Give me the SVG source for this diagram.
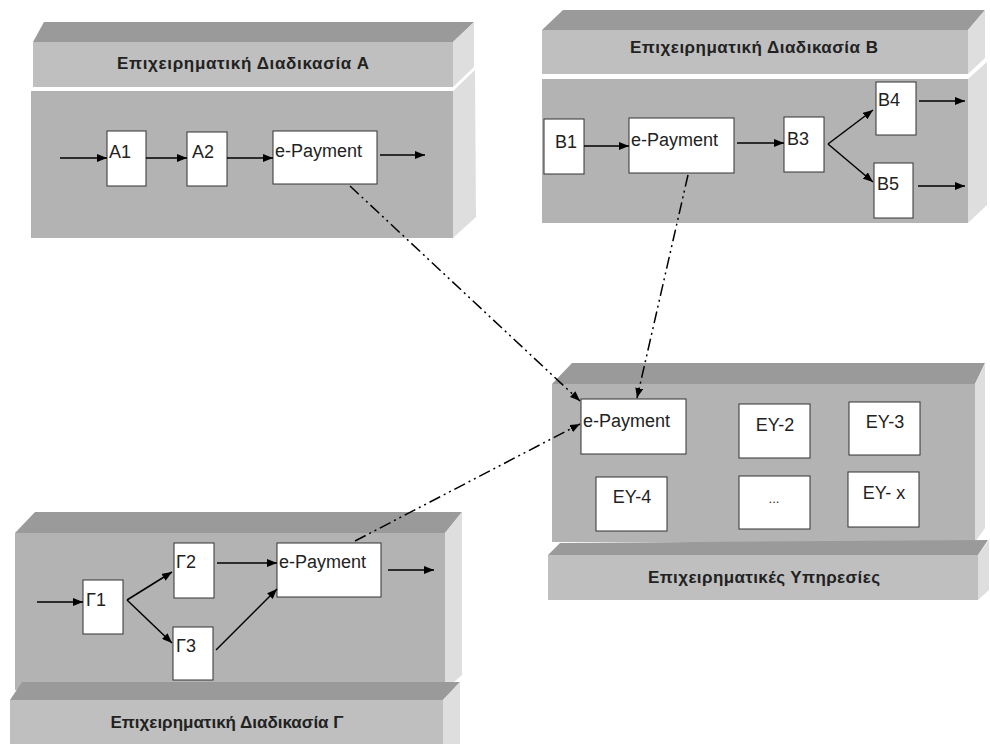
<svg xmlns="http://www.w3.org/2000/svg" width="990" height="744" viewBox="0 0 990 744">
<defs>
<marker id="ah" markerWidth="10" markerHeight="8" refX="10" refY="4" orient="auto" markerUnits="userSpaceOnUse">
<path d="M0,0 L10,4 L0,8 z" fill="#000"/>
</marker>
</defs>
<style>
.top{fill:#9a9a9a}
.side{fill:#dedede}
.hdr{fill:#bfbfbf}
.body{fill:#b3b3b3}
.box{fill:#fff;stroke:#333;stroke-width:1}
.lbl{font-family:"Liberation Sans",Arial,sans-serif;font-size:18px;fill:#222}
.ttl{font-family:"Liberation Sans",Arial,sans-serif;font-size:17px;font-weight:bold;fill:#222}
.flow{stroke:#000;stroke-width:1.5;fill:none;marker-end:url(#ah)}
.dd{stroke:#000;stroke-width:1.5;fill:none;stroke-dasharray:12 4 2 4 2 4;marker-end:url(#ah)}
</style>
<rect width="990" height="744" fill="#fff"/>

<!-- Block A -->
<g id="blockA">
<polygon class="top" points="33,42 44,22 474,22 453,42"/>
<rect class="hdr" x="33" y="42" width="420" height="45"/>
<polygon class="side" points="453,42 474,22 474,67 453,87"/>
<rect class="body" x="31" y="91" width="422" height="147"/>
<polygon class="side" points="453,91 475,70 476,217 453,238"/>
<text class="ttl" x="243" y="69" text-anchor="middle" textLength="252" lengthAdjust="spacing">Επιχειρηματική Διαδικασία Α</text>
</g>

<!-- Block B -->
<g id="blockB">
<polygon class="top" points="542,30 563,10 985,10 968,30"/>
<rect class="hdr" x="542" y="30" width="426" height="44"/>
<polygon class="side" points="968,30 985,10 985,58 968,74"/>
<rect class="body" x="542" y="79" width="426" height="144"/>
<polygon class="side" points="968,79 987,62 987,205 968,223"/>
<text class="ttl" x="754" y="53" text-anchor="middle" textLength="248" lengthAdjust="spacing">Επιχειρηματική Διαδικασία Β</text>
</g>

<!-- Block EY -->
<g id="blockEY">
<polygon class="top" points="552,384 572,363 985,363 975,384"/>
<rect class="body" x="552" y="384" width="423" height="158"/>
<polygon class="side" points="975,384 985,364 985,528 975,542"/>
<polygon class="top" points="548,555 560,543 988,540 978,555"/>
<rect class="hdr" x="548" y="555" width="430" height="45"/>
<polygon class="side" points="978,555 989,540 989,590 978,600"/>
<text class="ttl" x="764" y="583" text-anchor="middle" textLength="232" lengthAdjust="spacing">Επιχειρηματικές Υπηρεσίες</text>
</g>

<!-- Block Γ -->
<g id="blockG">
<polygon class="top" points="15,533 35,512 462,512 445,533"/>
<rect class="body" x="15" y="533" width="430" height="157"/>
<polygon class="side" points="445,533 462,512 462,675 445,690"/>
<polygon class="top" points="10,700 22,682 460,682 443,700"/>
<rect class="hdr" x="10" y="700" width="433" height="44"/>
<polygon class="side" points="443,700 460,682 460,744 443,744"/>
<text class="ttl" x="227" y="728" text-anchor="middle" textLength="233" lengthAdjust="spacing">Επιχειρηματική Διαδικασία Γ</text>
</g>

<!-- Nodes A -->
<g id="A1"><rect class="box" x="107" y="131" width="39" height="55"/><text class="lbl" x="109" y="158">A1</text></g>
<g id="A2"><rect class="box" x="187" y="132" width="40" height="54"/><text class="lbl" x="192" y="158">A2</text></g>
<g id="A_ePay"><rect class="box" x="273" y="131" width="104" height="53"/><text class="lbl" x="275" y="157">e-Payment</text></g>

<!-- Nodes B -->
<g id="B1"><rect class="box" x="544" y="119" width="40" height="55"/><text class="lbl" x="555" y="148">B1</text></g>
<g id="B_ePay"><rect class="box" x="629" y="118" width="105" height="55"/><text class="lbl" x="631" y="146">e-Payment</text></g>
<g id="B3"><rect class="box" x="784" y="117" width="40" height="55"/><text class="lbl" x="787" y="145">B3</text></g>
<g id="B4"><rect class="box" x="876" y="82" width="40" height="53"/><text class="lbl" x="878" y="106">B4</text></g>
<g id="B5"><rect class="box" x="874" y="163" width="39" height="55"/><text class="lbl" x="877" y="190">B5</text></g>

<!-- Nodes EY -->
<g id="EY_ePay"><rect class="box" x="581" y="399" width="105" height="55"/><text class="lbl" x="583" y="427">e-Payment</text></g>
<g id="EY2"><rect class="box" x="739" y="404" width="71" height="54"/><text class="lbl" x="775" y="431" text-anchor="middle">ΕΥ-2</text></g>
<g id="EY3"><rect class="box" x="849" y="402" width="71" height="53"/><text class="lbl" x="885" y="428" text-anchor="middle">ΕΥ-3</text></g>
<g id="EY4"><rect class="box" x="596" y="477" width="71" height="54"/><text class="lbl" x="632" y="503" text-anchor="middle">ΕΥ-4</text></g>
<g id="EYdots"><rect class="box" x="739" y="476" width="71" height="53"/><text class="lbl" x="774" y="503" text-anchor="middle" style="font-size:13px">...</text></g>
<g id="EYx"><rect class="box" x="848" y="472" width="71" height="55"/><text class="lbl" x="884" y="499" text-anchor="middle">ΕΥ- x</text></g>

<!-- Nodes Γ -->
<g id="G1"><rect class="box" x="83" y="580" width="40" height="54"/><text class="lbl" x="86" y="606">Γ1</text></g>
<g id="G2"><rect class="box" x="174" y="543" width="40" height="55"/><text class="lbl" x="176" y="568">Γ2</text></g>
<g id="G3"><rect class="box" x="173" y="627" width="40" height="53"/><text class="lbl" x="176" y="652">Γ3</text></g>
<g id="G_ePay"><rect class="box" x="277" y="543" width="104" height="54"/><text class="lbl" x="279" y="568">e-Payment</text></g>

<!-- Connectors -->
<g id="connectors">
<line class="flow" x1="60" y1="158" x2="107" y2="158"/>
<line class="flow" x1="146" y1="158" x2="187" y2="158"/>
<line class="flow" x1="227" y1="158" x2="273" y2="158"/>
<line class="flow" x1="380" y1="155" x2="425" y2="155"/>

<line class="flow" x1="584" y1="146" x2="629" y2="146"/>
<line class="flow" x1="737" y1="143" x2="784" y2="143"/>
<line class="flow" x1="828" y1="144" x2="873" y2="110"/>
<line class="flow" x1="828" y1="144" x2="873" y2="182"/>
<line class="flow" x1="919" y1="101" x2="965" y2="101"/>
<line class="flow" x1="918" y1="186" x2="965" y2="186"/>

<line class="flow" x1="37" y1="602" x2="83" y2="602"/>
<line class="flow" x1="127" y1="600" x2="172" y2="572"/>
<line class="flow" x1="127" y1="600" x2="172" y2="643"/>
<line class="flow" x1="217" y1="563" x2="277" y2="563"/>
<line class="flow" x1="216" y1="650" x2="277" y2="589"/>
<line class="flow" x1="388" y1="570" x2="434" y2="570"/>

<line class="dd" x1="350" y1="186" x2="580" y2="401"/>
<line class="dd" x1="688" y1="175" x2="637" y2="398"/>
<line class="dd" x1="355" y1="541" x2="580" y2="424"/>
</g>
</svg>
